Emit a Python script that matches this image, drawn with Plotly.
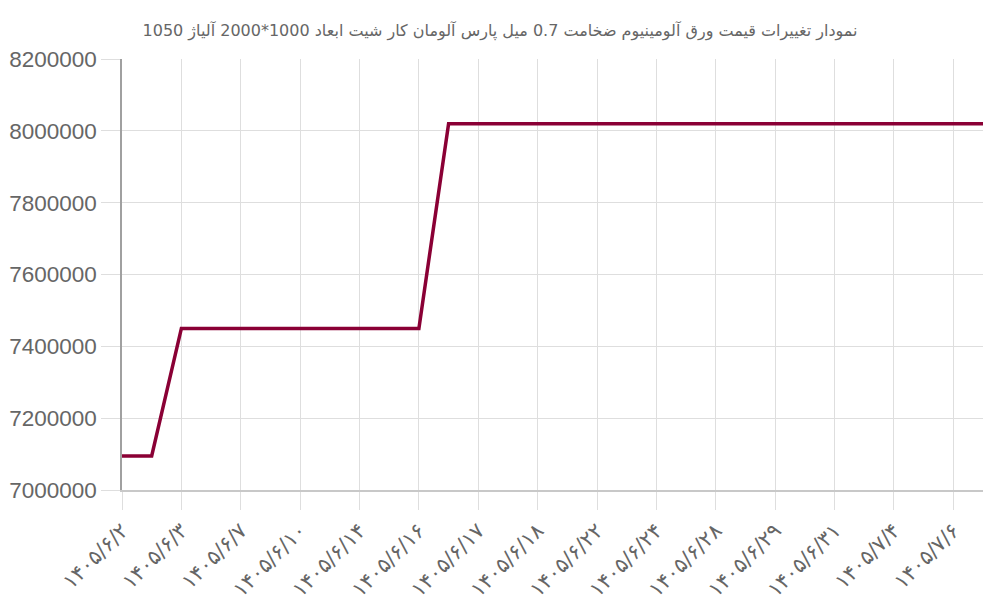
import plotly.graph_objects as go

# نمودار قیمت ورق آلومینیوم - داده ها
title_text = "نمودار تغییرات قیمت ورق آلومینیوم ضخامت 0.7 میل پارس آلومان کار شیت ابعاد 1000*2000 آلیاژ 1050"

point_index = list(range(30))
prices = [7095000, 7095000] + [7450000] * 9 + [8020000] * 19

tick_positions = list(range(0, 30, 2))
tick_labels = [
    "۱۴۰۵/۶/۲", "۱۴۰۵/۶/۳", "۱۴۰۵/۶/۷", "۱۴۰۵/۶/۱۰", "۱۴۰۵/۶/۱۴",
    "۱۴۰۵/۶/۱۶", "۱۴۰۵/۶/۱۷", "۱۴۰۵/۶/۱۸", "۱۴۰۵/۶/۲۲", "۱۴۰۵/۶/۲۴",
    "۱۴۰۵/۶/۲۸", "۱۴۰۵/۶/۲۹", "۱۴۰۵/۶/۳۱", "۱۴۰۵/۷/۴", "۱۴۰۵/۷/۶",
]

fig = go.Figure()
fig.add_trace(go.Scatter(
    x=point_index, y=prices, mode="lines",
    line=dict(color="#8a0035", width=3.5),
    hoverinfo="y",
))

# page has 8px body margin, so the figure is a bit smaller than the window
fig.update_layout(
    width=992, height=592,
    paper_bgcolor="white", plot_bgcolor="white",
    margin=dict(l=114, r=17, t=51, b=110),
    showlegend=False,
    title=dict(text=title_text, x=0.496, xanchor="center", y=0.963, yanchor="middle",
               font=dict(family="DejaVu Sans", size=16, color="#666")),
)
fig.update_xaxes(
    range=[0, 29], automargin=False,
    tickmode="array", tickvals=tick_positions, ticktext=tick_labels,
    tickangle=-45, tickfont=dict(family="DejaVu Sans", size=21, color="#666"),
    showgrid=True, gridcolor="#dedede", gridwidth=1,
    ticks="outside", ticklen=18, tickcolor="#dedede", tickwidth=1,
    showline=True, linecolor="#c8c8c8", linewidth=2,
    zeroline=False,
)
fig.update_yaxes(
    range=[7000000, 8200000], dtick=200000, tickformat="d", automargin=False,
    tickfont=dict(family="Liberation Sans", size=22.5, color="#666"),
    showgrid=True, gridcolor="#dedede", gridwidth=1,
    showline=True, linecolor="#a0a0a0", linewidth=1.5,
    ticks="outside", ticklen=19, tickcolor="#dedede", tickwidth=1,
    zeroline=False,
)

fig.write_html("out.html")
